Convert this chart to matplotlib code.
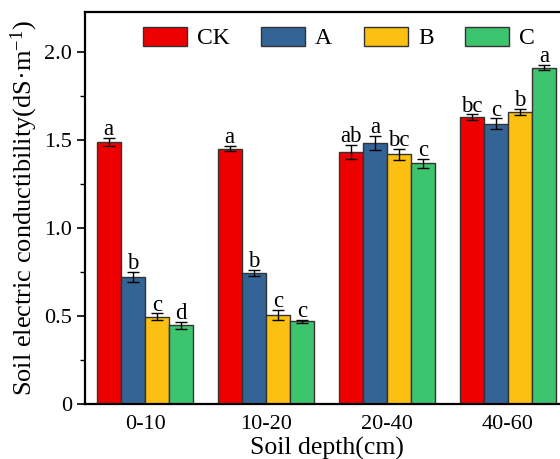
import matplotlib
matplotlib.use("Agg")
import matplotlib.pyplot as plt
import numpy as np
from matplotlib.ticker import MultipleLocator

plt.rcParams['font.family'] = ['Liberation Serif', 'DejaVu Serif']
plt.rcParams['mathtext.fontset'] = 'custom'
plt.rcParams['mathtext.rm'] = 'Liberation Serif'
plt.rcParams['mathtext.it'] = 'Liberation Serif:italic'

depths = ['0-10', '10-20', '20-40', '40-60']
treatments = ['CK', 'A', 'B', 'C']
colors = ['#EE0000', '#346496', '#FCC012', '#3CC46E']

ck_vals = [1.489, 1.451, 1.434, 1.631]
a_vals = [0.723, 0.746, 1.485, 1.593]
b_vals = [0.495, 0.507, 1.419, 1.661]
c_vals = [0.448, 0.470, 1.367, 1.911]

ck_err = [0.022, 0.015, 0.040, 0.015]
a_err = [0.030, 0.018, 0.040, 0.030]
b_err = [0.020, 0.028, 0.030, 0.018]
c_err = [0.020, 0.010, 0.025, 0.015]

ck_sig = ['a', 'a', 'ab', 'bc']
a_sig = ['b', 'b', 'a', 'c']
b_sig = ['c', 'c', 'bc', 'b']
c_sig = ['d', 'c', 'c', 'a']

vals = [ck_vals, a_vals, b_vals, c_vals]
errs = [ck_err, a_err, b_err, c_err]
sigs = [ck_sig, a_sig, b_sig, c_sig]

fig = plt.figure(figsize=(5.6, 4.59), dpi=100)
ax = fig.add_axes([84.5/560, 55/459, 484/560, 392/459])

x = np.arange(len(depths))
w = 0.2
for i, t in enumerate(treatments):
    pos = x + (i - 1.5) * w
    ax.bar(pos, vals[i], width=w, color=colors[i], edgecolor='#333333',
           linewidth=1.0, label=t, zorder=2)
    ax.errorbar(pos, vals[i], yerr=errs[i], fmt='none', ecolor='black',
                elinewidth=1.0, capsize=4, capthick=1.0, zorder=3)
    for p, v, e, s in zip(pos, vals[i], errs[i], sigs[i]):
        ax.text(p, v + e - 0.012, s, ha='center', va='bottom', fontsize=16.5, zorder=4)

ax.set_xlim(-0.5, 3.5)
ax.set_ylim(0, 2.228)
ax.set_xticks(x)
ax.set_xticklabels(depths, fontsize=16)
ax.yaxis.set_minor_locator(MultipleLocator(0.25))
ax.set_yticks([0, 0.5, 1.0, 1.5, 2.0])
ax.set_yticklabels(['0', '0.5', '1.0', '1.5', '2.0'], fontsize=16)
ax.tick_params(axis='x', length=0, pad=8)
ax.tick_params(axis='y', which='major', direction='out', length=6, width=1.2, pad=3)
ax.tick_params(axis='y', which='minor', direction='out', length=3.5, width=1.0)
for sp in ['left', 'bottom', 'top', 'right']:
    ax.spines[sp].set_linewidth(1.6)

ax.set_xlabel('Soil depth(cm)', fontsize=18.5, labelpad=2)
ax.set_ylabel(r'Soil electric conductibility(dS·m$^{\mathrm{-1}}$)', fontsize=19, labelpad=3)

handles, labels = ax.get_legend_handles_labels()
fig.legend(handles, labels, loc='center', bbox_to_anchor=(339/560, 1 - 38/459),
           ncol=4, frameon=False, fontsize=17, handlelength=1.86, handleheight=0.9,
           handletextpad=0.42, columnspacing=1.35, borderpad=0)

fig.savefig('out.png', dpi=100)
